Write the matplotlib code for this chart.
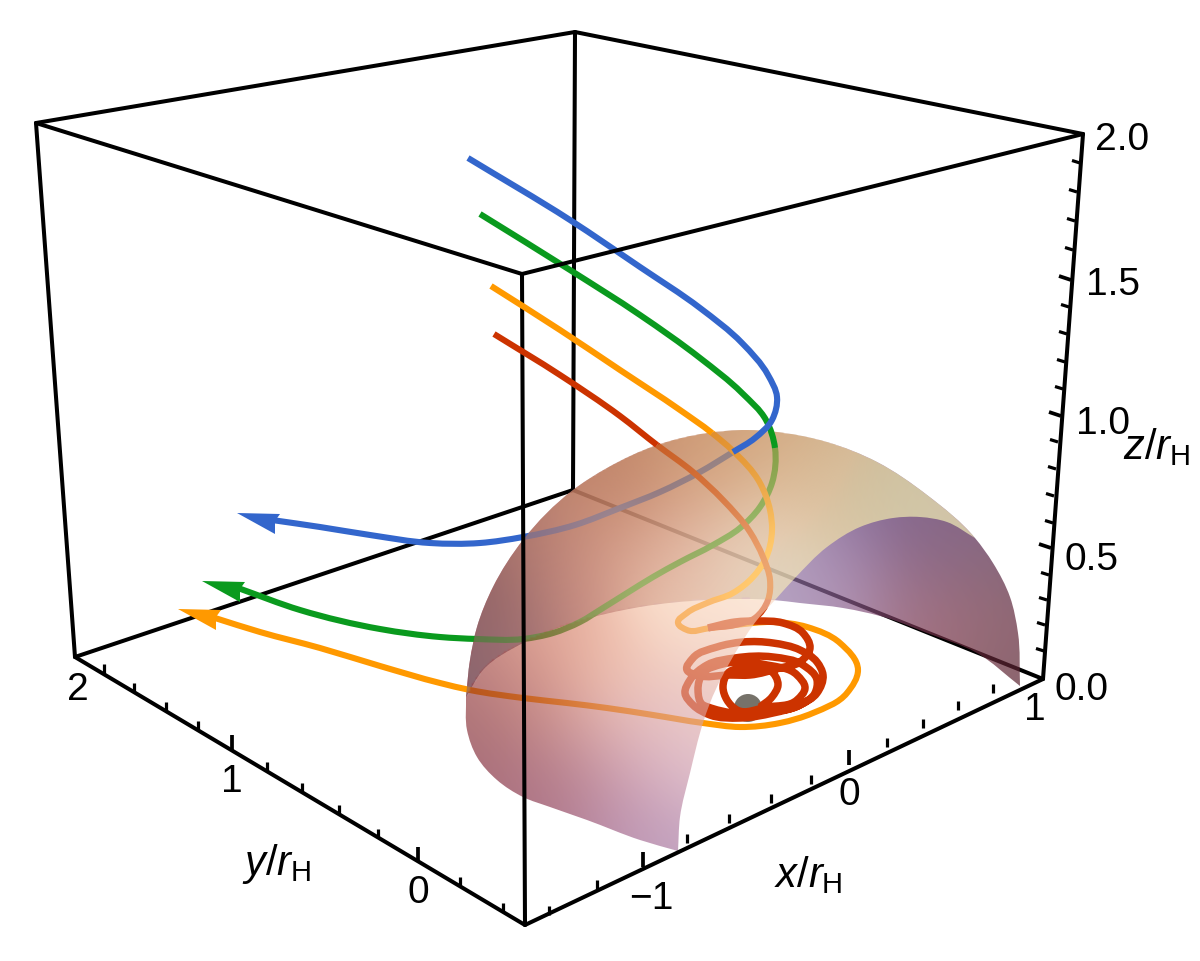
import numpy as np
import matplotlib
matplotlib.use("Agg")
import matplotlib.pyplot as plt
from matplotlib.path import Path
from matplotlib.patches import PathPatch, Polygon, Circle

plt.rcParams['font.family'] = ['Liberation Sans', 'DejaVu Sans']
plt.rcParams['mathtext.fontset'] = 'custom'
plt.rcParams['mathtext.rm'] = 'Liberation Sans'
plt.rcParams['mathtext.it'] = 'Liberation Sans:italic'

# ---- values (image pixel coordinates) ----
BOX_A, BOX_B, BOX_C, BOX_D = (525, 925), (75, 657), (1043, 679), (573, 490)
BOX_E, BOX_F, BOX_G, BOX_H = (522, 274), (36, 123), (1083, 134), (575, 32)

y_ticks_x = [104, 134, 166, 198, 232, 267, 302, 339, 378, 418, 460, 503]
y_ticks_y = [673, 692, 711, 730, 750, 771, 792, 814, 838, 862, 886, 912]
y_ticks_major = [0, 0, 0, 0, 1, 0, 0, 0, 0, 1, 0, 0]

x_ticks_x = [549, 597, 643, 687, 729, 771, 811, 849, 887, 923, 958, 993]
x_ticks_y = [915, 889, 867, 843, 823, 803, 784, 765, 747, 728, 710, 693]
x_ticks_major = [0, 0, 1, 0, 0, 0, 0, 1, 0, 0, 0, 0]

z_ticks_x = [1080, 1077, 1075, 1073, 1071, 1069, 1067, 1065, 1063, 1061, 1058, 1056,
             1054, 1053, 1051, 1049, 1047, 1045, 1044]
z_ticks_y = [163, 192, 221, 250, 280, 307, 334, 362, 389, 416, 442, 469,
             496, 523, 548, 575, 600, 625, 651]
z_ticks_major = [0, 0, 0, 0, 1, 0, 0, 0, 0, 1, 0, 0, 0, 0, 1, 0, 0, 0, 0]

tick_labels = ["2.0", "1.5", "1.0", "0.5", "0.0", "2", "1", "0", "\u22121", "0", "1"]
tick_label_x = [1122, 1113, 1103, 1091, 1082, 78, 232, 418, 651, 849, 1035]
tick_label_y = [140, 285, 424, 560, 690, 690, 782, 893, 899, 795, 710]

blue_curve = [(468, 158), (570, 220), (640, 267), (700, 308), (742, 343), (768, 375),
              (777, 397), (772, 420), (755, 438), (733, 452), (700, 472), (660, 492), (620, 508),
              (575, 525), (523, 537), (480, 543), (430, 543), (370, 535), (320, 527), (272, 520)]
blue_split = 9
green_curve = [(480, 214), (570, 270), (640, 315), (700, 358), (742, 393), (766, 420),
               (775, 448), (772, 483), (760, 507), (740, 528), (713, 545), (680, 562), (653, 577),
               (627, 593), (603, 608), (580, 622), (553, 633), (523, 639), (477, 639), (440, 637),
               (380, 629), (300, 610), (238, 588)]
green_split = 6
orange_curve = [(491, 286), (560, 330), (620, 370), (680, 410), (712, 433), (732, 450), (760, 483),
                (770, 510), (772, 530), (765, 560), (753, 577), (733, 593), (707, 603), (687, 613),
                (678, 623), (687, 630), (710, 628), (735, 625), (773, 622), (807, 627), (840, 643),
                (858, 670), (847, 693), (813, 713), (780, 723), (740, 727), (703, 723), (653, 715),
                (607, 708), (567, 703), (523, 698), (470, 690), (440, 683), (380, 666), (320, 648),
                (260, 632), (215, 618)]
orange_split = 4
red_curve = [(494, 334), (560, 375), (620, 416), (657, 445), (693, 472), (723, 500), (750, 532),
             (763, 557), (770, 580), (768, 600), (755, 618), (735, 625), (708, 628)]
red_split = 3
# the coil, read in order around the central ball
red_coil_x = [708, 735, 758, 783, 803, 810, 800, 780, 750, 730, 697, 687, 693, 717, 743, 773, 800,
              817, 823, 817, 800, 773, 740, 710, 693, 685, 690, 707, 735, 773, 803, 817, 815, 800,
              767, 733, 708, 703, 698, 703, 723, 767, 797, 805, 797, 767, 737, 727, 723, 728, 747,
              770, 778, 772, 760]
red_coil_y = [628, 622, 621, 623, 633, 648, 662, 668, 675, 675, 675, 670, 658, 647, 642, 643, 650,
              662, 675, 693, 705, 713, 718, 715, 705, 693, 680, 665, 658, 657, 665, 680, 693, 705,
              712, 713, 707, 705, 690, 673, 664, 665, 675, 688, 700, 707, 710, 700, 687, 673, 668,
              670, 685, 697, 707]

BALL = (748, 708, 14)

shell_left = [(678, 851), (640, 840), (587, 820), (550, 807), (523, 797), (497, 780), (477, 757),
              (467, 730), (466, 697)]
shell_top = [(466, 697), (470, 660), (477, 627), (493, 587), (523, 540), (573, 490), (607, 468),
             (657, 445), (707, 433), (747, 430), (777, 432), (827, 442), (877, 462), (927, 495),
             (975, 538), (993, 563), (1010, 597), (1018, 633), (1020, 686)]
shell_top_split = 14
shell_inner = [(975, 538), (947, 522), (920, 517), (893, 518), (860, 527), (827, 547), (795, 578),
               (775, 600), (757, 620), (737, 650), (710, 703), (703, 723), (690, 773), (680, 817),
               (678, 851)]
rim = [(1020, 686), (977, 653), (927, 633), (887, 618), (843, 608), (800, 603), (773, 600),
       (707, 600), (640, 607), (573, 623), (523, 643), (483, 670), (466, 697)]

# shading samples: x, y, r, g, b
shade_double = [(485, 610, 130, 90, 100), (500, 600, 150, 100, 100), (530, 545, 165, 110, 100),
                (600, 480, 185, 125, 100), (657, 450, 195, 135, 100), (707, 437, 205, 155, 115),
                (747, 432, 210, 165, 125), (820, 445, 205, 170, 130), (880, 470, 210, 185, 150),
                (930, 500, 215, 200, 170), (560, 560, 205, 145, 130), (620, 560, 220, 165, 145),
                (680, 540, 225, 180, 160), (700, 480, 225, 180, 150), (780, 480, 225, 190, 155),
                (780, 540, 230, 210, 185), (840, 490, 225, 200, 165), (880, 500, 220, 205, 175),
                (750, 570, 235, 215, 195), (500, 650, 170, 120, 120), (473, 680, 125, 95, 110),
                (620, 500, 205, 145, 120), (560, 610, 205, 145, 135), (680, 590, 235, 200, 180)]
shade_single = [(490, 690, 185, 125, 125), (480, 730, 160, 105, 115), (520, 780, 170, 110, 125),
                (530, 700, 210, 145, 135), (600, 660, 240, 190, 170), (680, 620, 252, 225, 205),
                (740, 615, 253, 235, 220), (720, 680, 240, 205, 195), (640, 700, 240, 200, 190),
                (580, 740, 215, 165, 165), (560, 790, 175, 120, 140), (620, 820, 185, 140, 170),
                (675, 845, 195, 165, 195), (685, 770, 225, 195, 210), (640, 760, 215, 170, 185),
                (700, 720, 235, 205, 205), (540, 650, 225, 165, 150)]
shade_back = [(800, 590, 185, 170, 200), (830, 570, 165, 140, 180), (870, 540, 135, 110, 155),
              (930, 525, 130, 100, 140), (960, 550, 135, 105, 130), (990, 600, 130, 100, 115),
              (1005, 650, 140, 100, 115), (1015, 680, 135, 100, 105), (950, 620, 170, 115, 130),
              (900, 600, 165, 120, 140), (850, 590, 185, 150, 180), (975, 640, 160, 110, 120),
              (925, 570, 145, 105, 130), (700, 520, 210, 190, 205), (750, 480, 215, 200, 205),
              (600, 550, 175, 135, 150), (510, 620, 150, 110, 130)]

COL_BLUE, COL_GREEN = "#3366cc", "#0a9a1e"
COL_ORANGE, COL_RED = "#ff9900", "#cc3300"
COL_BLACK = "#000000"

W, H = 1200, 961
LW_CURVE, LW_COIL, LW_BOX = 4.4, 5.4, 2.9
ALPHA_FRONT, ALPHA_BACK = 0.62, 0.70

fig = plt.figure(figsize=(12, 9.61), dpi=100)
ax = fig.add_axes([0, 0, 1, 1])
ax.set_xlim(0, W)
ax.set_ylim(H, 0)
ax.axis("off")


def bezier_segments(pts, start=0, end=None):
    """Cubic Bezier vertices through the read points, tangents scaled by chord length."""
    p = np.asarray(pts, float)
    n = len(p)
    end = n - 1 if end is None else end
    seg = np.linalg.norm(p[1:] - p[:-1], axis=1)
    dirs = np.zeros_like(p)
    d = (p[1:] - p[:-1]) / seg[:, None]
    # tangent direction weighted so the shorter neighbouring chord counts more
    dirs[1:-1] = d[:-1] * (seg[1:] / (seg[:-1] + seg[1:]))[:, None] + d[1:] * (seg[:-1] / (seg[:-1] + seg[1:]))[:, None]
    dirs[0] = d[0]
    dirs[-1] = d[-1]
    dirs /= np.linalg.norm(dirs, axis=1)[:, None]
    verts = [p[start]]
    for i in range(start, end):
        h = seg[i] / 3
        verts += [p[i] + dirs[i] * h, p[i + 1] - dirs[i + 1] * h, p[i + 1]]
    return verts


def open_path(pts, start=0, end=None):
    v = bezier_segments(pts, start, end)
    return Path(v, [Path.MOVETO] + [Path.CURVE4] * (len(v) - 1))


def closed_path(*edges):
    verts, codes = [], []
    for e in edges:
        v = bezier_segments(*e) if isinstance(e, tuple) else bezier_segments(e)
        verts += v
        codes += ([Path.MOVETO] if not codes else [Path.LINETO]) + [Path.CURVE4] * (len(v) - 1)
    verts.append(verts[0])
    codes.append(Path.CLOSEPOLY)
    return Path(verts, codes)


def stroke(path, color, lw, z, cap="butt"):
    ax.add_patch(PathPatch(path, fc="none", ec=color, lw=lw, zorder=z,
                           capstyle=cap, joinstyle="round"))


def edge(a, b, z):
    ax.plot([a[0], b[0]], [a[1], b[1]], color=COL_BLACK, lw=LW_BOX, zorder=z,
            solid_capstyle="round")


def field(samples, X, Y, sigma=42.0):
    s = np.asarray(samples, float)
    num = np.zeros(X.shape + (3,))
    den = np.zeros(X.shape) + 1e-9
    for row in s:
        w = np.exp(-((X - row[0]) ** 2 + (Y - row[1]) ** 2) / (2 * sigma ** 2))
        num += w[..., None] * row[2:]
        den += w
    return num / den[..., None] / 255.0


# ---- shading fields ----
gx, gy = np.meshgrid(np.arange(0, W, 2) + 1.0, np.arange(0, H, 2) + 1.0)
dome_path = closed_path(shell_top, rim)
front_path = closed_path(shell_left, (shell_top, 0, shell_top_split), shell_inner)
dome_mask = dome_path.contains_points(np.c_[gx.ravel(), gy.ravel()]).reshape(gx.shape)

back_rgb = field(shade_back, gx, gy, 38.0)
back_comp = np.where(dome_mask[..., None], back_rgb, 1.0)
target = np.where(dome_mask[..., None], field(shade_double, gx, gy), field(shade_single, gx, gy))
front_rgb = np.clip((target - (1 - ALPHA_FRONT) * back_comp) / ALPHA_FRONT, 0, 1)
back_src = np.clip((back_rgb - (1 - ALPHA_BACK)) / ALPHA_BACK, 0, 1)


def shell_image(rgb, alpha, path, z):
    rgba = np.dstack([rgb, np.full(gx.shape, alpha)])
    im = ax.imshow(rgba, extent=(0, W, H, 0), interpolation="bilinear", zorder=z, aspect="auto")
    im.set_clip_path(PathPatch(path, transform=ax.transData))


# ---- hidden box edges ----
for a, b in [(BOX_H, BOX_D), (BOX_B, BOX_D), (BOX_C, BOX_D)]:
    edge(a, b, 1)

shell_image(back_src, ALPHA_BACK, dome_path, 2)
ax.add_patch(Circle(BALL[:2], BALL[2], fc="#76726a", ec="none", zorder=3))

# ---- trajectories under the shell ----
stroke(open_path(green_curve, green_split), COL_GREEN, LW_CURVE, 4)
stroke(open_path(blue_curve, blue_split), COL_BLUE, LW_CURVE, 4.1)
stroke(open_path(orange_curve, orange_split), COL_ORANGE, LW_CURVE, 4.2)
stroke(open_path(red_curve, red_split), COL_RED, LW_CURVE, 4.3)
stroke(open_path(list(zip(red_coil_x, red_coil_y))), COL_RED, LW_COIL, 4.4)

shell_image(front_rgb, ALPHA_FRONT, front_path, 5)

# ---- parts of the trajectories in front of the shell ----
stroke(open_path(green_curve, 0, green_split), COL_GREEN, LW_CURVE, 6)
stroke(open_path(blue_curve, 0, blue_split), COL_BLUE, LW_CURVE, 6.1)

# ---- visible box edges ----
for a, b in [(BOX_A, BOX_B), (BOX_A, BOX_C), (BOX_A, BOX_E), (BOX_E, BOX_F), (BOX_E, BOX_G),
             (BOX_F, BOX_H), (BOX_H, BOX_G), (BOX_F, BOX_B), (BOX_G, BOX_C)]:
    edge(a, b, 7)

stroke(open_path(orange_curve, 0, orange_split), COL_ORANGE, LW_CURVE, 8)
stroke(open_path(red_curve, 0, red_split), COL_RED, LW_CURVE, 8.1)

# ---- ticks ----
for xs, ys, major, dmaj, dmin in [
        (y_ticks_x, y_ticks_y, y_ticks_major, (0, -15), (0, -9)),
        (x_ticks_x, x_ticks_y, x_ticks_major, (0, -15), (0, -9)),
        (z_ticks_x, z_ticks_y, z_ticks_major, (-12, -4), (-8, -2.5))]:
    for x0, y0, m in zip(xs, ys, major):
        d = dmaj if m else dmin
        ax.plot([x0, x0 + d[0]], [y0, y0 + d[1]], color=COL_BLACK, lw=2.7 if m else 2.3,
                zorder=7, solid_capstyle="butt")

# ---- arrow heads, same skewed shape placed at each tip ----
ARROW_SHAPE = np.array([(0, 0), (43, 1), (38, 8), (38, 21)], float)
for tip, color in [((237, 513), COL_BLUE), ((202, 581), COL_GREEN), ((178, 609), COL_ORANGE)]:
    ax.add_patch(Polygon(ARROW_SHAPE + np.array(tip), closed=True, fc=color, ec="none", zorder=9))

# ---- text ----
for s, x0, y0 in zip(tick_labels, tick_label_x, tick_label_y):
    ax.text(x0, y0, s, fontsize=28, ha="center", va="center", color="black", zorder=10)
ax.text(1157, 447, r"$z/r_{\mathrm{H}}$", fontsize=30, ha="center", va="center", zorder=10)
ax.text(277, 864, r"$y/r_{\mathrm{H}}$", fontsize=30, ha="center", va="center", zorder=10)
ax.text(808, 875, r"$x/r_{\mathrm{H}}$", fontsize=30, ha="center", va="center", zorder=10)

fig.savefig("out.png", dpi=100, facecolor="white")
